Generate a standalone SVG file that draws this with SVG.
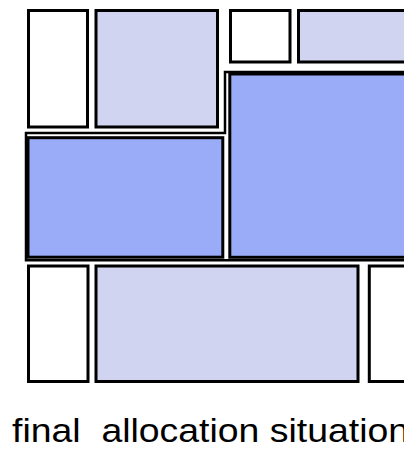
<svg xmlns="http://www.w3.org/2000/svg" width="404" height="454" viewBox="0 0 404 454">
<style>
.b{stroke:#000;stroke-width:3}
.w{fill:#fff}
.l{fill:#d0d4f0}
.d{fill:#9aabf8}
.o{fill:none;stroke:#000;stroke-width:2.5}
.t{font-family:"Liberation Sans",Arial,sans-serif;font-size:34px;fill:#000}
</style>
<rect width="404" height="454" fill="#fff"/>
<g id="top-free-1"><rect class="b w" x="28.5" y="10.5" width="59" height="116.5"/></g>
<g id="top-used-1"><rect class="b l" x="96" y="10.5" width="121.5" height="116.5"/></g>
<g id="top-free-2"><rect class="b w" x="230.5" y="10.5" width="59.5" height="51.5"/></g>
<g id="top-used-2"><rect class="b l" x="298.5" y="10.5" width="120" height="51.5"/></g>
<g id="alloc-left"><rect class="b d" x="28" y="137.7" width="194.8" height="119.5"/></g>
<g id="alloc-right"><rect class="b d" x="229.8" y="74" width="190" height="183.3"/></g>
<g id="alloc-outline"><path class="o" d="M26,260.2 V133 H225 V72 H412 V260.2 Z"/></g>
<g id="bottom-free-1"><rect class="b w" x="28.5" y="266" width="59.5" height="115.5"/></g>
<g id="bottom-used-1"><rect class="b l" x="96" y="266" width="262" height="115.5"/></g>
<g id="bottom-free-2"><rect class="b w" x="369.3" y="266" width="60" height="115.5"/></g>
<g id="connectors"></g>
<g id="caption"><text class="t" transform="translate(12,442) scale(1.1,1)" x="0" y="0" xml:space="preserve">final  allocation situation</text></g>
</svg>
